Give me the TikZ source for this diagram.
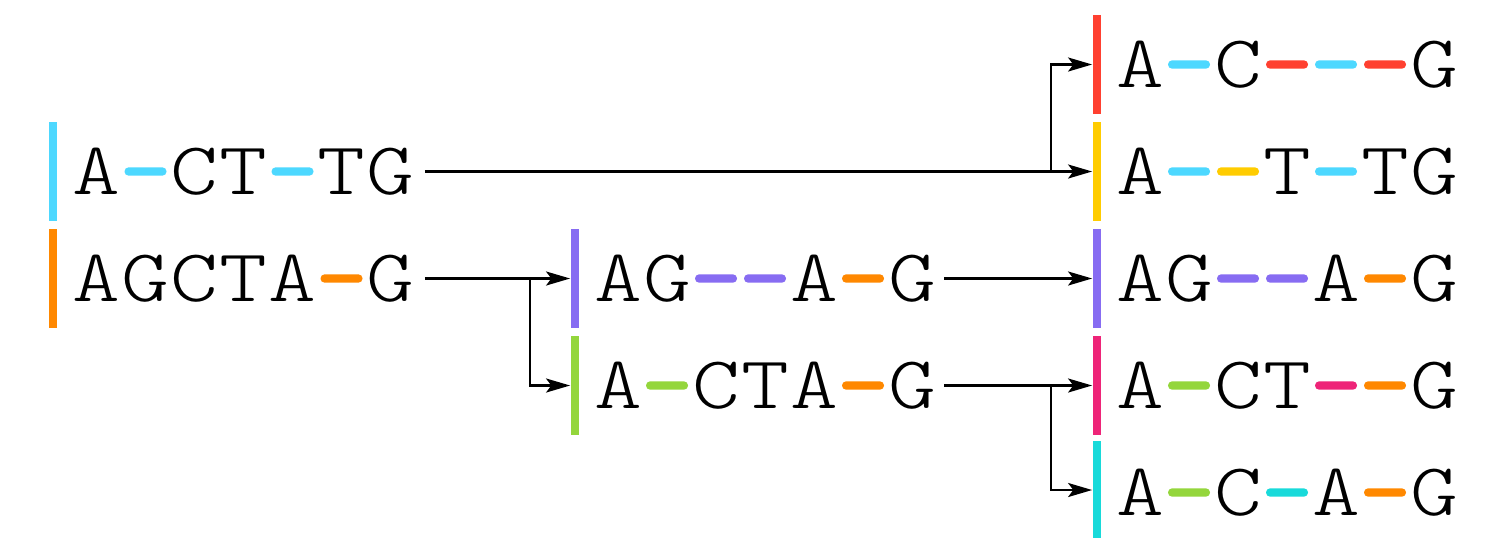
\documentclass[tikz,border=0pt]{standalone}
\usepackage{fontspec}
\setmonofont{Latin Modern Mono Light}
\usetikzlibrary{arrows.meta}
\definecolor{csky}{HTML}{4DD8FF}
\definecolor{corange}{HTML}{FF8800}
\definecolor{cred}{HTML}{FF4030}
\definecolor{cyellow}{HTML}{FFCC00}
\definecolor{cpurple}{HTML}{876CF2}
\definecolor{cgreen}{HTML}{94D63C}
\definecolor{cpink}{HTML}{EE2478}
\definecolor{cteal}{HTML}{18DADA}
\tikzset{
  letter/.style={inner sep=0pt, anchor=base, font=\fontsize{37.3}{37.3}\selectfont\ttfamily},
  bar/.style={fill=#1, draw=none, minimum width=4pt, minimum height=49.5pt, inner sep=0pt},
  gap/.style={fill=#1, draw=none, rounded corners=2pt, minimum width=21pt, minimum height=4.15pt, inner sep=0pt},
  conn/.style={line width=1.2pt, -{Stealth[length=12pt,width=7pt,inset=2.6pt]}}
}
\def\Ltype{L}
\newcommand\seqrow[4]{%
  \foreach \ty/\val [count=\i] in {#4}{%
    \ifx\ty\Ltype
      \node[letter] (#1-\i) at ({#2+49*(\i-1)},{#3+22.8}) {\scalebox{1.22}[1]{\val}};
    \else
      \node[gap=\val] (#1-\i) at ({#2+49*(\i-1)},#3) {};
    \fi
  }}
\begin{document}
\begin{tikzpicture}[x=0.5pt,y=-0.5pt]
\useasboundingbox (0,0) rectangle (1502,537);
% bars
\node[bar=csky]    (L1b) at (52.5,171.5) {};
\node[bar=corange] (L2b) at (52.5,278.5) {};
\node[bar=cpurple] (M1b) at (574.5,278.5) {};
\node[bar=cgreen]  (M2b) at (574.5,385.5) {};
\node[bar=cred]    (R1b) at (1096.5,64.5) {};
\node[bar=cyellow] (R2b) at (1096.5,171.5) {};
\node[bar=cpurple] (R3b) at (1096.5,278.5) {};
\node[bar=cpink]   (R4b) at (1096.5,385.5) {};
\node[bar=cteal]   (R5b) at (1096.5,490) {};
% sequences
\seqrow{L1}{96.5}{171.5}{L/A,D/csky,L/C,L/T,D/csky,L/T,L/G}
\seqrow{L2}{96.5}{278.5}{L/A,L/G,L/C,L/T,L/A,D/corange,L/G}
\seqrow{M1}{618}{278.5}{L/A,L/G,D/cpurple,D/cpurple,L/A,D/corange,L/G}
\seqrow{M2}{618}{385.5}{L/A,D/cgreen,L/C,L/T,L/A,D/corange,L/G}
\seqrow{R1}{1140}{64.5}{L/A,D/csky,L/C,D/cred,D/csky,D/cred,L/G}
\seqrow{R2}{1140}{171.5}{L/A,D/csky,D/cyellow,L/T,D/csky,L/T,L/G}
\seqrow{R3}{1140}{278.5}{L/A,L/G,D/cpurple,D/cpurple,L/A,D/corange,L/G}
\seqrow{R4}{1140}{385.5}{L/A,D/cgreen,L/C,L/T,D/cpink,D/corange,L/G}
\seqrow{R5}{1140}{492.5}{L/A,D/cgreen,L/C,D/cteal,L/A,D/corange,L/G}
% connectors
\coordinate (k1) at (1050.7,171.5);
\coordinate (k2) at (530,278.5);
\coordinate (k3) at (1050.7,385.5);
\draw[conn] ([xshift=5pt]L1-7.east |- R2b.west) -- (R2b.west);
\draw[conn] (k1) |- (R1b.west);
\draw[conn] ([xshift=5pt]L2-7.east |- M1b.west) -- (M1b.west);
\draw[conn] (k2) |- (M2b.west);
\draw[conn] ([xshift=4pt]M1-7.east |- R3b.west) -- (R3b.west);
\draw[conn] ([xshift=4pt]M2-7.east |- R4b.west) -- (R4b.west);
\draw[conn] (k3) |- (R5b.west);
\end{tikzpicture}
\end{document}
